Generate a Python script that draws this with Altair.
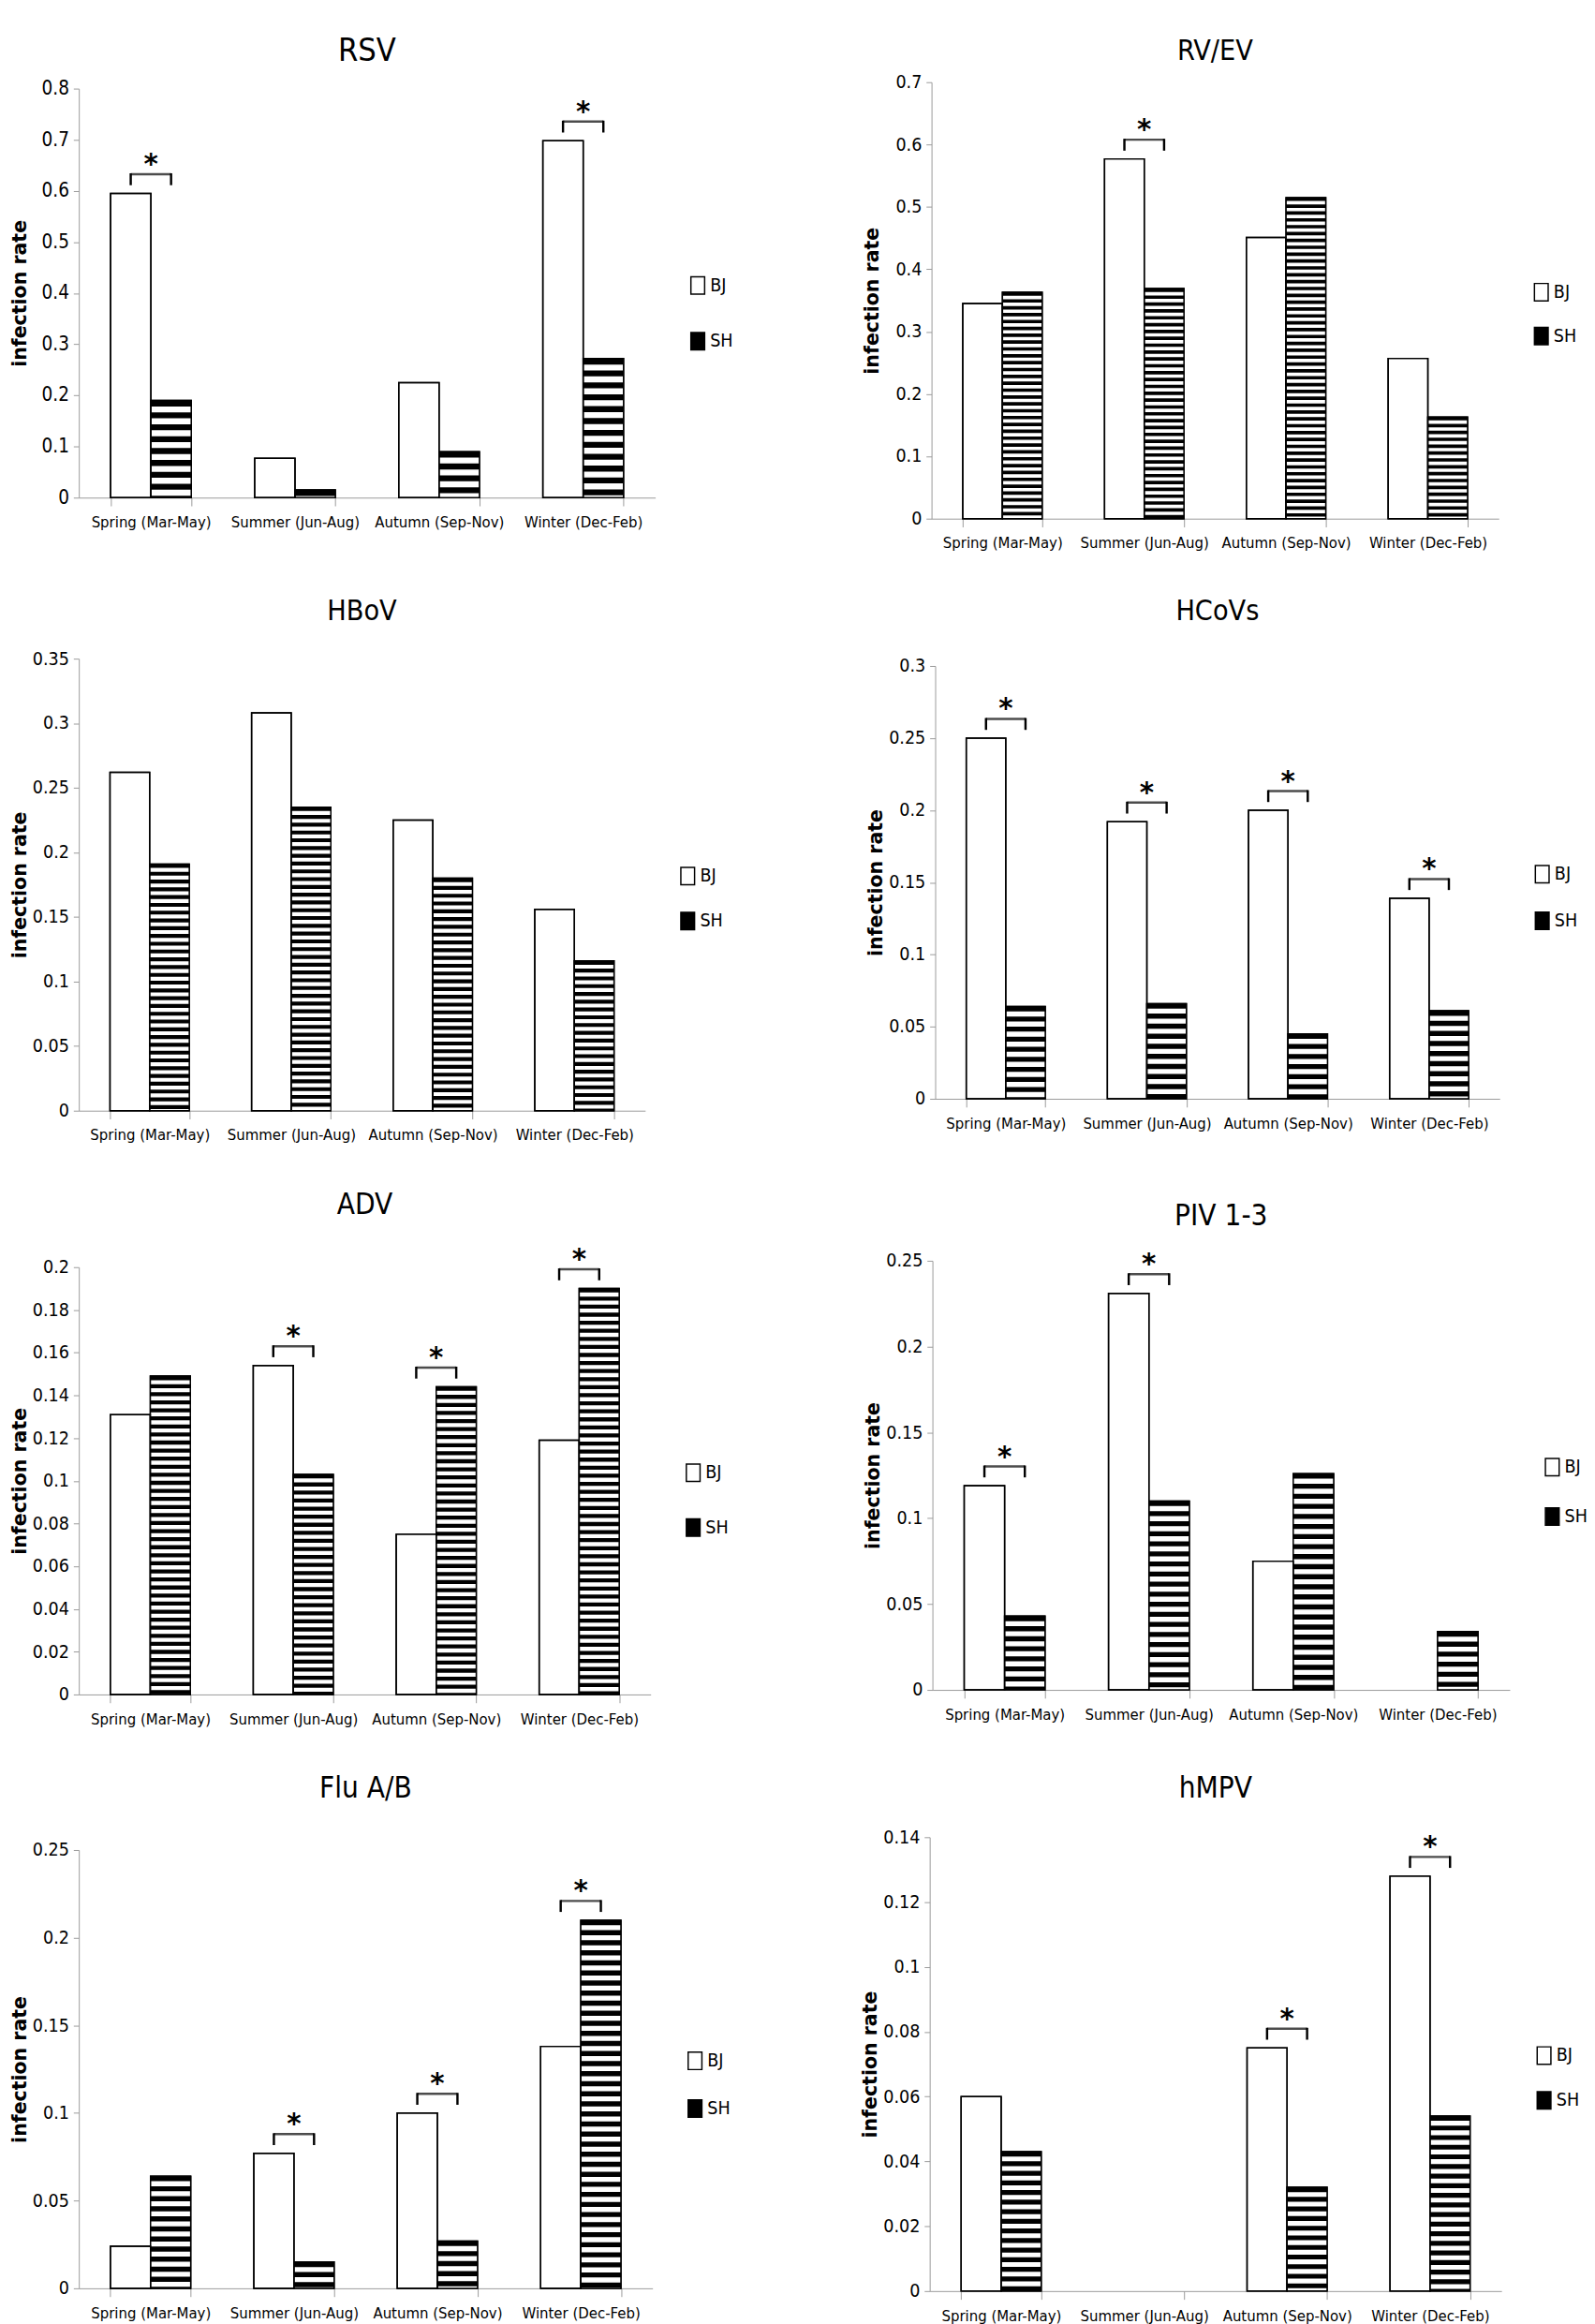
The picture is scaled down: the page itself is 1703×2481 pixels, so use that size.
import altair as alt
import pandas as pd

seasons = ["Spring (Mar-May)", "Summer (Jun-Aug)", "Autumn (Sep-Nov)", "Winter (Dec-Feb)"]
groups = ["BJ", "SH"]

# infection rates per season (BJ = Beijing, SH = Shanghai)
rsv_bj = [0.595, 0.077, 0.225, 0.698]
rsv_sh = [0.190, 0.015, 0.090, 0.272]
rsv_sig = [1, 0, 0, 1]

rvev_bj = [0.345, 0.577, 0.451, 0.257]
rvev_sh = [0.363, 0.369, 0.515, 0.163]
rvev_sig = [0, 1, 0, 0]

hbov_bj = [0.262, 0.308, 0.225, 0.156]
hbov_sh = [0.191, 0.235, 0.180, 0.116]
hbov_sig = [0, 0, 0, 0]

hcov_bj = [0.250, 0.192, 0.200, 0.139]
hcov_sh = [0.064, 0.066, 0.045, 0.061]
hcov_sig = [1, 1, 1, 1]

adv_bj = [0.131, 0.154, 0.075, 0.119]
adv_sh = [0.149, 0.103, 0.144, 0.190]
adv_sig = [0, 1, 1, 1]

piv_bj = [0.119, 0.231, 0.075, 0.0]
piv_sh = [0.043, 0.110, 0.126, 0.034]
piv_sig = [1, 1, 0, 0]

flu_bj = [0.024, 0.077, 0.100, 0.138]
flu_sh = [0.064, 0.015, 0.027, 0.210]
flu_sig = [0, 1, 1, 1]

hmpv_bj = [0.060, 0.0, 0.075, 0.128]
hmpv_sh = [0.043, 0.0, 0.032, 0.054]
hmpv_sig = [0, 0, 1, 1]

# y tick labels of each panel
rsv_ticks = [0, 0.1, 0.2, 0.3, 0.4, 0.5, 0.6, 0.7, 0.8]
rvev_ticks = [0, 0.1, 0.2, 0.3, 0.4, 0.5, 0.6, 0.7]
hbov_ticks = [0, 0.05, 0.1, 0.15, 0.2, 0.25, 0.3, 0.35]
hcov_ticks = [0, 0.05, 0.1, 0.15, 0.2, 0.25, 0.3]
adv_ticks = [0, 0.02, 0.04, 0.06, 0.08, 0.1, 0.12, 0.14, 0.16, 0.18, 0.2]
piv_ticks = [0, 0.05, 0.1, 0.15, 0.2, 0.25]
flu_ticks = [0, 0.05, 0.1, 0.15, 0.2, 0.25]
hmpv_ticks = [0, 0.02, 0.04, 0.06, 0.08, 0.1, 0.12, 0.14]

NARROW = "'Liberation Sans Narrow', 'DejaVu Sans Condensed', 'Liberation Sans', sans-serif"
BOLD = "'DejaVu Sans', sans-serif"
GRAY = "#9a9a9a"
PAD_IN = 0.44
PAD_OUT = 0.22
LEG_SHAPE = "M-0.79,-1L0.79,-1L0.79,1L-0.79,1Z"


def panel(name, bj, sh, sig, ticks, w, h, extra, title_size, title_offset,
          ylab_size, period, leg_gap):
    ymax = ticks[-1]
    df = pd.DataFrame({"season": seasons + seasons,
                       "group": ["BJ"] * 4 + ["SH"] * 4,
                       "value": bj + sh})
    sig_df = pd.DataFrame({"season": seasons,
                           "top": [max(a, b) for a, b in zip(bj, sh)],
                           "sig": sig})
    step = period * ymax / h
    bw = w / 4.0 * (1 - PAD_IN)

    xscale = alt.Scale(domain=seasons, paddingInner=PAD_IN, paddingOuter=PAD_OUT)
    xaxis = alt.Axis(title=None, labelAngle=0, labelFont=NARROW, labelFontSize=17,
                     labelColor="black", labelPadding=10, tickSize=9,
                     tickColor=GRAY, domainColor=GRAY, tickBand="extent",
                     labelLimit=400, grid=False)
    x_enc = alt.X("season:N", sort=seasons, scale=xscale, axis=xaxis)
    xo = alt.XOffset("group:N", scale=alt.Scale(domain=groups, paddingInner=0, paddingOuter=0))
    yscale = alt.Scale(domain=[0, ymax], nice=False, zero=True, range=[h + extra, extra])
    yaxis = alt.Axis(title="infection rate", values=ticks, format="~g", grid=False,
                     labelFont=NARROW, labelFontSize=ylab_size, labelColor="black",
                     labelPadding=5, tickSize=6, tickColor=GRAY, domainColor=GRAY,
                     titleFont=BOLD, titleFontWeight="bold", titleFontSize=21,
                     titleColor="black", titleAngle=270, titleX=-64,
                     titleY=extra + h / 2, titleAlign="center", titleBaseline="middle")

    def Y(field):
        return alt.Y(field, scale=yscale, axis=yaxis, title="infection rate")

    base = alt.Chart(df)
    legend = alt.Legend(title=None, orient="none", legendX=w + 36,
                        legendY=extra + 0.48 * h - 10,
                        direction="vertical", symbolType=LEG_SHAPE, symbolSize=361,
                        symbolStrokeColor="black", symbolStrokeWidth=1.5,
                        labelFont=NARROW, labelFontSize=20, labelColor="black",
                        labelOffset=3, rowPadding=leg_gap)
    bars = base.transform_filter("datum.value > 0").mark_bar(
        stroke="black", strokeWidth=1.5).encode(
        x=x_enc, xOffset=xo, y=Y("value:Q"),
        color=alt.Color("group:N", scale=alt.Scale(domain=groups, range=["white", "black"]),
                        legend=legend))

    stripes = base.transform_filter(
        "datum.group == 'SH' && datum.value > 0"
    ).transform_calculate(
        k=f"sequence(0, datum.value, {step})"
    ).transform_flatten(["k"]).transform_calculate(
        lo=f"max(0, datum.value - datum.k - {step})",
        hi=f"datum.value - datum.k - {step / 2}"
    ).transform_filter("datum.hi > 0").mark_bar(color="white", strokeWidth=0).encode(
        x=x_enc, xOffset=xo, y=Y("lo:Q"), y2="hi:Q")

    outline = base.transform_filter("datum.value > 0").mark_bar(
        fillOpacity=0, stroke="black", strokeWidth=1.5).encode(
        x=x_enc, xOffset=xo, y=Y("value:Q"))

    sig_base = alt.Chart(sig_df).transform_filter("datum.sig == 1")
    hbar = sig_base.mark_tick(orient="horizontal", size=bw * 0.5, thickness=2.5,
                              color="black", yOffset=-21).encode(
        x=x_enc, y=Y("top:Q"))
    ends = sig_base.transform_calculate(group="['BJ', 'SH']").transform_flatten(
        ["group"]).mark_rule(strokeWidth=2.5, color="black", yOffset=-22, y2Offset=-9).encode(
        x=x_enc, xOffset=xo, y=Y("top:Q"), y2="top:Q")
    star = sig_base.mark_text(text="*", font=BOLD, fontWeight="bold", fontSize=30,
                              baseline="alphabetic", yOffset=-22, color="black").encode(
        x=x_enc, y=Y("top:Q"))

    return alt.layer(bars, stripes, outline, hbar, ends, star).properties(
        width=w, height=h + extra,
        title=alt.TitleParams(text=name, font=NARROW, fontSize=title_size,
                              fontWeight="normal", color="black", anchor="middle",
                              frame="group", offset=title_offset))


#              name  BJ  SH  sig  ticks              w    h  extra ts  to   yl  per  leg
p_rsv = panel("RSV", rsv_bj, rsv_sh, rsv_sig, rsv_ticks, 630, 447, 7, 35, 12.5, 21, 13, 36)
p_rvev = panel("RV/EV", rvev_bj, rvev_sh, rvev_sig, rvev_ticks, 620, 477, 0, 31, 7.7, 20, 7.5, 23)
p_hbov = panel("HBoV", hbov_bj, hbov_sh, hbov_sig, hbov_ticks, 619, 494, 0, 31, 24.7, 20, 8.5, 24)
p_hcov = panel("HCoVs", hcov_bj, hcov_sh, hcov_sig, hcov_ticks, 617, 473, 8, 31, 32.7, 20, 11, 26)
p_adv = panel("ADV", adv_bj, adv_sh, adv_sig, adv_ticks, 625, 467, 7, 32, 28.4, 20, 8.8, 35)
p_piv = panel("PIV 1-3", piv_bj, piv_sh, piv_sig, piv_ticks, 631, 469, 0, 32, 21.4, 20, 11, 29)
p_flu = panel("Flu A/B", flu_bj, flu_sh, flu_sig, flu_ticks, 627, 479, 14, 32, 36.4, 20, 11, 27)
p_hmpv = panel("hMPV", hmpv_bj, hmpv_sh, hmpv_sig, hmpv_ticks, 625, 496, 0, 32, 26.4, 20, 10.5, 24)


def indep(c):
    return c.resolve_scale(color="independent", xOffset="independent").resolve_legend(
        color="independent")


def row(a, b, spacing):
    return indep(alt.hconcat(a, b, spacing=spacing))


chart = indep(alt.vconcat(
    row(p_rsv, p_rvev, 142),
    row(p_hbov, p_hcov, 157),
    row(p_adv, p_piv, 148),
    row(p_flu, p_hmpv, 143),
    spacing=51,
)).properties(
    padding={"left": 3, "top": 0, "right": 0, "bottom": 0},
    background="white").configure_view(strokeWidth=0)

chart.save("out.html", embed_options={"renderer": "svg", "actions": False})
